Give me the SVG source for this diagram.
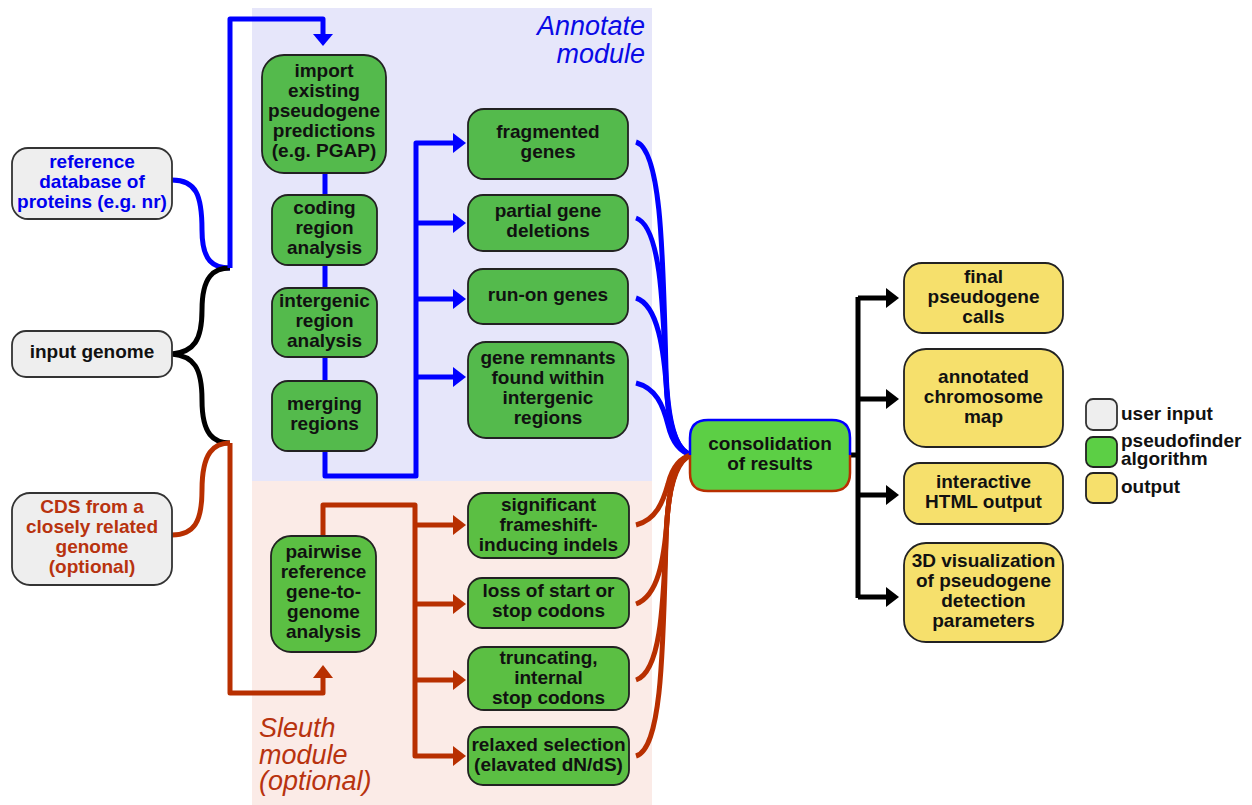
<svg xmlns="http://www.w3.org/2000/svg" width="1252" height="805" viewBox="0 0 1252 805">
<defs>
<style>
.t{font-family:"Liberation Sans",Arial,sans-serif;font-weight:bold;font-size:19px;text-anchor:middle;fill:#111}
.tb{fill:#0000ee}
.tr{fill:#b8330f}
.mod{font-family:"Liberation Sans",Arial,sans-serif;font-style:italic;font-size:27px}
.grey{fill:#eeeeee;stroke:#333;stroke-width:1.8}
.green{fill:#54ba4c;stroke:#222;stroke-width:1.8}
.green2{fill:#5bbf43;stroke:#222;stroke-width:1.8}
.yellow{fill:#f6e06c;stroke:#222;stroke-width:1.8}
.lb{fill:none;stroke:#0000ff;stroke-width:5;stroke-linejoin:round}
.lr{fill:none;stroke:#b82f00;stroke-width:5;stroke-linejoin:round}
.lk{fill:none;stroke:#000;stroke-width:5;stroke-linejoin:round}
.ahb{fill:#0000ff}
.ahr{fill:#b82f00}
.ahk{fill:#000}
.ls{text-anchor:start}
</style>
</defs>
<rect width="1252" height="805" fill="#fff"/>
<rect x="252" y="8" width="400" height="473" fill="#e6e6fa"/>
<rect x="252" y="481" width="400" height="324" fill="#fbebe7"/>
<text class="mod" x="645" y="35" text-anchor="end" fill="#0a0ae6">Annotate</text>
<text class="mod" x="645" y="63" text-anchor="end" fill="#0a0ae6">module</text>
<text class="mod" x="259" y="737" fill="#b8330f">Sleuth</text>
<text class="mod" x="259" y="764" fill="#b8330f">module</text>
<text class="mod" x="259" y="790" fill="#b8330f">(optional)</text>

<g id="connectors">
<path class="lb" d="M172,180 C196,180 202,195 202,230 C202,262 214,268 230,268"/>
<path class="lk" d="M172,354 C194,352 202,340 202,310 C202,276 214,268 230,268"/>
<path class="lk" d="M172,354 C194,356 202,368 202,400 C202,435 214,443 230,443"/>
<path class="lr" d="M172,535 C194,535 202,522 202,490 C202,452 214,443 230,443"/>
<path class="lb" d="M230,268 L230,19 L323,19 L323,36"/>
<polygon class="ahb" points="313,34 333,34 323,46"/>
<path class="lr" d="M230,443 L230,693 L323,693 L323,676"/>
<polygon class="ahr" points="313,678 333,678 323,665"/>
<path class="lb" d="M325,173 L325,476 L416,476 L416,143 L455,143"/>
<path class="lb" d="M416,223 L455,223 M416,299 L455,299 M416,377 L455,377"/>
<polygon class="ahb" points="453,133 466,143 453,153"/>
<polygon class="ahb" points="453,213 466,223 453,233"/>
<polygon class="ahb" points="453,289 466,299 453,309"/>
<polygon class="ahb" points="453,367 466,377 453,387"/>
<path class="lr" d="M323,536 L323,505 L415,505 L415,756 L455,756"/>
<path class="lr" d="M415,525 L455,525 M415,604 L455,604 M415,680 L455,680"/>
<polygon class="ahr" points="453,515 466,525 453,535"/>
<polygon class="ahr" points="453,594 466,604 453,614"/>
<polygon class="ahr" points="453,670 466,680 453,690"/>
<polygon class="ahr" points="453,746 466,756 453,766"/>
<path class="lb" d="M636,142 C662,150 663,260 666,370 C668,430 678,452 692,455"/>
<path class="lb" d="M636,218 C660,226 663,300 666,380 C668,432 678,452 692,455"/>
<path class="lb" d="M636,298 C658,305 664,350 667,395 C670,435 680,452 692,455"/>
<path class="lb" d="M636,383 C656,388 663,405 668,425 C673,446 682,453 692,455"/>
<path class="lr" d="M636,525 C656,520 663,502 668,484 C673,464 682,457 692,455"/>
<path class="lr" d="M636,604 C658,596 664,560 667,520 C670,478 680,458 692,455"/>
<path class="lr" d="M636,680 C660,672 663,610 666,540 C668,478 678,458 692,455"/>
<path class="lr" d="M636,756 C662,748 663,650 666,540 C668,478 678,458 692,455"/>
<path class="lk" d="M850,455 L858,455 M858,297 L858,598 M858,298 L888,298 M858,399 L888,399 M858,495 L888,495 M858,597 L888,597"/>
<polygon class="ahk" points="886,288 899,298 886,308"/>
<polygon class="ahk" points="886,389 899,399 886,409"/>
<polygon class="ahk" points="886,485 899,495 886,505"/>
<polygon class="ahk" points="886,587 899,597 886,607"/>
</g>

<g id="ref-db"><rect class="grey" x="12" y="148" width="160" height="71" rx="16"/>
<text class="t tb" x="92" y="167.5">reference</text><text class="t tb" x="92" y="187.5">database of</text><text class="t tb" x="92" y="207.5">proteins (e.g. nr)</text></g>
<g id="input-genome"><rect class="grey" x="12" y="331" width="160" height="46" rx="14"/>
<text class="t" x="92" y="358">input genome</text></g>
<g id="cds"><rect class="grey" x="12" y="493" width="160" height="92" rx="18"/>
<text class="t tr" x="92" y="513">CDS from a</text><text class="t tr" x="92" y="533">closely related</text><text class="t tr" x="92" y="553">genome</text><text class="t tr" x="92" y="573">(optional)</text></g>

<g id="import"><rect class="green" x="262" y="55" width="124" height="118" rx="22"/>
<text class="t" x="324" y="77">import</text><text class="t" x="324" y="97">existing</text><text class="t" x="324" y="117">pseudogene</text><text class="t" x="324" y="137">predictions</text><text class="t" x="324" y="157">(e.g. PGAP)</text></g>
<g id="coding"><rect class="green" x="272" y="195" width="105" height="70" rx="16"/>
<text class="t" x="324.5" y="214">coding</text><text class="t" x="324.5" y="234">region</text><text class="t" x="324.5" y="254">analysis</text></g>
<g id="intergenic"><rect class="green" x="272" y="288" width="105" height="69" rx="16"/>
<text class="t" x="324.5" y="306.5">intergenic</text><text class="t" x="324.5" y="326.5">region</text><text class="t" x="324.5" y="346.5">analysis</text></g>
<g id="merging"><rect class="green" x="272" y="381" width="105" height="70" rx="16"/>
<text class="t" x="324.5" y="410">merging</text><text class="t" x="324.5" y="430">regions</text></g>

<g id="fragmented"><rect class="green" x="468" y="109" width="160" height="70" rx="16"/>
<text class="t" x="548" y="138">fragmented</text><text class="t" x="548" y="158">genes</text></g>
<g id="partial"><rect class="green" x="468" y="195" width="160" height="56" rx="15"/>
<text class="t" x="548" y="217">partial gene</text><text class="t" x="548" y="237">deletions</text></g>
<g id="runon"><rect class="green" x="468" y="269" width="160" height="55" rx="15"/>
<text class="t" x="548" y="300.5">run-on genes</text></g>
<g id="remnants"><rect class="green" x="468" y="342" width="160" height="96" rx="18"/>
<text class="t" x="548" y="364">gene remnants</text><text class="t" x="548" y="384">found within</text><text class="t" x="548" y="404">intergenic</text><text class="t" x="548" y="424">regions</text></g>

<g id="pairwise"><rect class="green2" x="271" y="536" width="105" height="116" rx="20"/>
<text class="t" x="323.5" y="558">pairwise</text><text class="t" x="323.5" y="578">reference</text><text class="t" x="323.5" y="598">gene-to-</text><text class="t" x="323.5" y="618">genome</text><text class="t" x="323.5" y="638">analysis</text></g>
<g id="significant"><rect class="green2" x="468" y="493" width="161" height="65" rx="16"/>
<text class="t" x="548.5" y="511">significant</text><text class="t" x="548.5" y="531">frameshift-</text><text class="t" x="548.5" y="551">inducing indels</text></g>
<g id="loss"><rect class="green2" x="468" y="578" width="161" height="50" rx="14"/>
<text class="t" x="548.5" y="597">loss of start or</text><text class="t" x="548.5" y="617">stop codons</text></g>
<g id="truncating"><rect class="green2" x="468" y="647" width="161" height="63" rx="16"/>
<text class="t" x="548.5" y="663.5">truncating,</text><text class="t" x="548.5" y="683.5">internal</text><text class="t" x="548.5" y="703.5">stop codons</text></g>
<g id="relaxed"><rect class="green2" x="468" y="727" width="161" height="58" rx="15"/>
<text class="t" x="548.5" y="751">relaxed selection</text><text class="t" x="548.5" y="771">(elavated dN/dS)</text></g>

<g id="consolidation">
<rect x="690" y="420" width="160" height="71" rx="18" fill="#5ccf45"/>
<path d="M690,455 L690,438 Q690,420 708,420 L832,420 Q850,420 850,438 L850,455" fill="none" stroke="#0000ff" stroke-width="2.5"/>
<path d="M690,455 L690,473 Q690,491 708,491 L832,491 Q850,491 850,473 L850,455" fill="none" stroke="#b82f00" stroke-width="2.5"/>
<text class="t" x="770" y="450">consolidation</text><text class="t" x="770" y="470">of results</text></g>

<g id="final"><rect class="yellow" x="904" y="263" width="159" height="70" rx="18"/>
<text class="t" x="983.5" y="283">final</text><text class="t" x="983.5" y="303">pseudogene</text><text class="t" x="983.5" y="323">calls</text></g>
<g id="annotated"><rect class="yellow" x="904" y="349" width="159" height="98" rx="22"/>
<text class="t" x="983.5" y="383">annotated</text><text class="t" x="983.5" y="403">chromosome</text><text class="t" x="983.5" y="423">map</text></g>
<g id="interactive"><rect class="yellow" x="904" y="463" width="159" height="61" rx="16"/>
<text class="t" x="983.5" y="488">interactive</text><text class="t" x="983.5" y="508">HTML output</text></g>
<g id="viz3d"><rect class="yellow" x="904" y="543" width="159" height="99" rx="22"/>
<text class="t" x="983.5" y="567">3D visualization</text><text class="t" x="983.5" y="587">of pseudogene</text><text class="t" x="983.5" y="607">detection</text><text class="t" x="983.5" y="627">parameters</text></g>

<g id="legend">
<rect class="grey" x="1086" y="399" width="31" height="31" rx="7"/>
<rect x="1086" y="437" width="31" height="30" rx="7" fill="#5ccf45" stroke="#222" stroke-width="1.8"/>
<rect class="yellow" x="1086" y="473" width="31" height="30" rx="7"/>
<text class="t ls" x="1121" y="420">user input</text>
<text class="t ls" x="1121" y="447">pseudofinder</text>
<text class="t ls" x="1121" y="465">algorithm</text>
<text class="t ls" x="1121" y="493">output</text>
</g>
</svg>
